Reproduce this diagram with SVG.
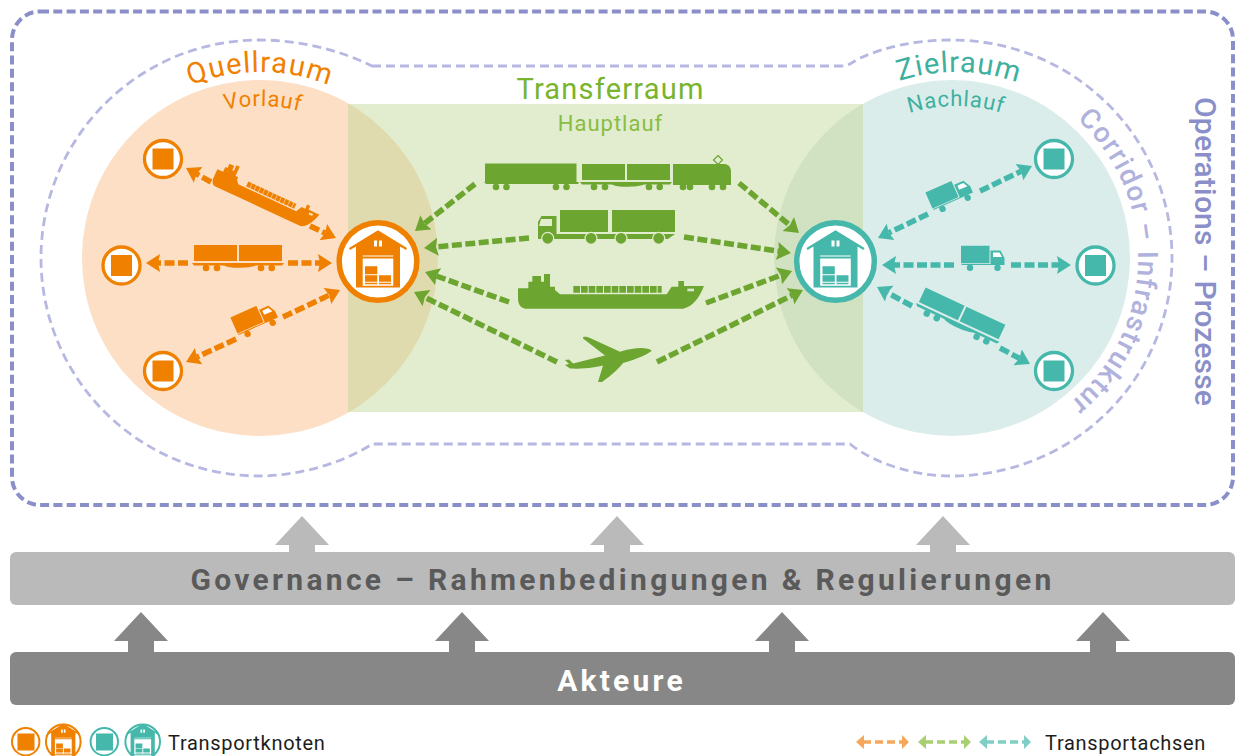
<svg xmlns="http://www.w3.org/2000/svg" width="1240" height="756" viewBox="0 0 1240 756">
<style>
text{font-family:Roboto,"Liberation Sans",sans-serif}
.or{color:#f08000;fill:#f08000}.gr{color:#6ca530;fill:#6ca530}.te{color:#45b8ab;fill:#45b8ab}
.ax{fill:none;stroke-width:5.500;stroke-dasharray:10 3.500}
.ao{stroke:#f08000;marker-end:url(#mo)}.ag{stroke:#6ca530;marker-end:url(#mg)}.at{stroke:#45b8ab;marker-end:url(#mt)}
.lg{fill:none;stroke-width:3.500;stroke-dasharray:8 4}
.ring{fill:#fff;stroke:currentColor;stroke-width:3.300}
.ring2{fill:#fff;stroke:currentColor;stroke-width:2}
.hub{fill:#fff;stroke:currentColor;stroke-width:5.500}
.k{fill:#1d1d1b;font-size:20px;letter-spacing:.7px}
</style>
<defs>
<marker id="mo" markerUnits="userSpaceOnUse" markerWidth="16" markerHeight="20" refX="2" refY="9" orient="auto"><path d="M0 0L14 9L0 18L2 9Z" fill="#f08000"/></marker>
<marker id="mg" markerUnits="userSpaceOnUse" markerWidth="16" markerHeight="20" refX="2" refY="9" orient="auto"><path d="M0 0L14 9L0 18L2 9Z" fill="#6ca530"/></marker>
<marker id="mt" markerUnits="userSpaceOnUse" markerWidth="16" markerHeight="20" refX="2" refY="9" orient="auto"><path d="M0 0L14 9L0 18L2 9Z" fill="#45b8ab"/></marker>
<clipPath id="cr"><rect x="348" y="104" width="515" height="308"/></clipPath>
<path id="aq" d="M72 262A188 190 0 0 1 448 262"/>
<path id="av" d="M104 262A156 156 0 0 1 416 262"/>
<path id="az" d="M768 262A188 190 0 0 1 1144 262"/>
<path id="an" d="M800 262A156 156 0 0 1 1112 262"/>
<path id="ac" d="M1077 119.300A188 188 0 0 1 1044 421"/>
<symbol id="wagon" overflow="visible"><path d="M-44-13h43V3h-43zM1-13h43V3H1zM-46 5H46L44 7.500H22L18 7.500C12 10 -8 11 -14 7.500H-44Z"/><circle cx="-32" cy="10" r="3.300"/><circle cx="-21" cy="10" r="3.300"/><circle cx="23" cy="10" r="3.300"/><circle cx="33.700" cy="10" r="3.300"/></symbol>
<symbol id="truck" overflow="visible"><path d="M-21.500-12.300H7V5.300H-21.500zM8-7.600H18L22 0V7H-21V6H8Z"/><path d="M10.500-5.500H17L19.500-1H10.500Z" fill="#fff"/><circle cx="-12.500" cy="9.700" r="3.200"/><circle cx="15" cy="9.700" r="3.200"/></symbol>
<symbol id="ship" overflow="visible"><path d="M-279-9H-248V-29H-236V-46H-210V-29H-201V-52H-183V-14H-168V-4L-153 9H167L182-14H202V-31H219V-16H279C265 20 245 46 217 52H-255C-270 52-279 40-279 21Z"/><path d="M-113-6h265" fill="none" stroke="currentColor" stroke-width="20" stroke-dasharray="20 3"/><rect x="229" y="-8" width="20" height="8" fill="#fff" opacity=".75"/></symbol>
<symbol id="wh" overflow="visible"><path d="M0-31.300L29-13.500L28-11.500L22-15V26H-22V-15L-28-11.500L-29-13.500Z"/><path d="M-4-21h3v6h-3zM1-21h3v6H1zM-15.300-6H15.300V-5H-15.300zM-15.300-3H15.300V24.300H-15.300z" fill="#fff"/><path d="M-13 4.700H-.7V12.700H-13zM-13 13.700H-.7V20.300H-13zM1 13.700H13V20.300H1zM-13 21.300H-.7V22.800H-13zM1 21.300H13V22.800H1z"/></symbol>
<path id="sq" d="M-10.500-10.500h21v21h-21z"/>
</defs>
<rect width="1240" height="756" fill="#fff"/>
<g id="frame"><rect x="12" y="11.500" width="1221" height="493.500" rx="28" fill="none" stroke="#8b8fc9" stroke-width="4" stroke-dasharray="9 4.300"/>
<path d="M372 66L840 66C850 66 852 62 860 58C885 47 915 40 952 40A220 218 0 0 1 952 476C915 476 875 464 850 444L372 444C345 462 300 476 259 476A218 218 0 0 1 259 40C300 40 340 50 372 66Z" fill="none" stroke="#b6b8e2" stroke-width="2.800" stroke-dasharray="9 5"/></g>
<g id="spaces"><circle cx="260" cy="258" r="178" fill="#fcdfc5"/><circle cx="952" cy="258" r="178" fill="#dbedea"/><rect x="348" y="104" width="515" height="308" fill="#e2ecce"/>
<g clip-path="url(#cr)"><circle cx="260" cy="258" r="178" fill="#e0dbae"/><circle cx="952" cy="258" r="178" fill="#d1e2c2"/></g></g>
<g id="connectors">
<path class="ax ao" d="M211 182L196.500 173.900"/><path class="ax ao" d="M310 226L325.100 233"/><path class="ax ao" d="M188 263H158"/><path class="ax ao" d="M288 263H320"/><path class="ax ao" d="M236 339L196.900 357"/><path class="ax ao" d="M283 317L329.200 295.100"/>
<path class="ax ag" d="M475 184L424.400 223.600"/><path class="ax ag" d="M529 238L436 246.900"/><path class="ax ag" d="M509 302L436.300 276"/><path class="ax ag" d="M557 362L424.800 297.300"/><path class="ax ag" d="M739 183L789.800 225.300"/><path class="ax ag" d="M684 237L779.100 251.200"/><path class="ax ag" d="M706 303L780.800 275.200"/><path class="ax ag" d="M657 362L792.200 295.300"/>
<path class="ax at" d="M928 214L888.800 232.800"/><path class="ax at" d="M980 191L1021.200 171.200"/><path class="ax at" d="M954 265H894"/><path class="ax at" d="M1011 265H1059"/><path class="ax at" d="M912 306L887.500 292.700"/><path class="ax at" d="M1000 348L1019.400 358.300"/>
</g>
<g id="orange-nodes" class="or"><g id="n1"><circle class="ring" cx="163" cy="159" r="18.500"/><use href="#sq" x="163" y="159"/></g><g id="n2"><circle class="ring" cx="121.500" cy="265.500" r="18.500"/><use href="#sq" x="121.500" y="265.500"/></g><g id="n3"><circle class="ring" cx="163" cy="371" r="18.500"/><use href="#sq" x="163" y="371"/></g><g id="hub-o"><circle class="hub" cx="378" cy="261.500" r="38.800"/><use href="#wh" x="378" y="261.500"/></g></g>
<g id="teal-nodes" class="te"><g id="n4"><circle class="ring" cx="1054" cy="159" r="18.500"/><use href="#sq" x="1054" y="159"/></g><g id="n5"><circle class="ring" cx="1095.500" cy="265.500" r="18.500"/><use href="#sq" x="1095.500" y="265.500"/></g><g id="n6"><circle class="ring" cx="1054" cy="371" r="18.500"/><use href="#sq" x="1054" y="371"/></g><g id="hub-t"><circle class="hub" cx="835.500" cy="261.500" r="38.800"/><use href="#wh" x="835.500" y="261.500"/></g></g>
<g id="vehicles-orange" class="or"><use href="#ship" transform="translate(267 195) rotate(25) scale(.2 .27)"/><use href="#wagon" x="238" y="258"/><use href="#truck" transform="translate(255 320) rotate(-24)"/></g>
<g id="vehicles-teal" class="te"><use href="#truck" transform="translate(950 195) rotate(-24)"/><use href="#truck" x="982.500" y="258"/><use href="#wagon" transform="translate(960 318) rotate(25)"/></g>
<g id="vehicles-green" class="gr">
<path d="M485 163.500H576.500V182H579L578 184H486L484 182H485Z"/><circle cx="496" cy="187" r="3.300"/><circle cx="506.500" cy="187" r="3.300"/><circle cx="556" cy="187" r="3.300"/><circle cx="566.500" cy="187" r="3.300"/>
<use href="#wagon" x="626" y="177"/>
<path d="M673 164H724C729 164 731 168 731 172V185H673Z"/><circle cx="683" cy="187" r="3.300"/><circle cx="690" cy="187" r="3.300"/><circle cx="712" cy="187" r="3.300"/><circle cx="723" cy="187" r="3.300"/><path d="M718 155.500L722.500 160L718 164.500L713.500 160Z" fill="none" stroke="#6ca530" stroke-width="1.200"/>
<path d="M560 210h48v22h-48zM612 210h63v22h-63zM538 222L541.500 216H556.500V234H675L668 239H538Z"/><path d="M541 219H552V226H539Z" fill="#e2ecce"/><g stroke="#e2ecce" stroke-width="1.200"><circle cx="547.700" cy="238.300" r="6"/><circle cx="591" cy="238.300" r="6"/><circle cx="621" cy="238.300" r="6"/><circle cx="658.700" cy="238.300" r="6"/></g>
<use href="#ship" transform="translate(611 291.300) scale(.3333)"/>
<path d="M651.700 350.700C648 347 635 347 620 351.700L590 338C585 336 580 336.500 585 340L605 355.500L573 363.500L569 359.500L565 360L569 364L565 365L570 368.500C585 369.300 597 367 603 365.500L598 382L602 382C612 375 620 367 623 363C640 358 648 354 651.700 350.700Z"/>
</g>
<g id="labels">
<text font-size="29" fill="#f08000" letter-spacing="1.200" text-anchor="middle"><textPath href="#aq" startOffset="50%">Quellraum</textPath></text>
<text font-size="22" fill="#f08000" letter-spacing=".8" text-anchor="middle"><textPath href="#av" startOffset="50.600%">Vorlauf</textPath></text>
<text x="610.500" y="98.500" font-size="29" fill="#79b42d" letter-spacing="1.200" text-anchor="middle">Transferraum</text>
<text x="610.500" y="130.500" font-size="22" fill="#88bd44" letter-spacing="1" text-anchor="middle">Hauptlauf</text>
<text font-size="29" fill="#3eb0a0" letter-spacing="1" text-anchor="middle"><textPath href="#az" startOffset="50.500%">Zielraum</textPath></text>
<text font-size="22" fill="#3eb0a0" letter-spacing=".8" text-anchor="middle"><textPath href="#an" startOffset="50%">Nachlauf</textPath></text>
<text font-size="28" font-weight="500" fill="#b0b2dd" letter-spacing="1.300"><textPath href="#ac">Corridor – Infrastruktur</textPath></text>
<text transform="translate(1195 97) rotate(90)" font-size="30" font-weight="500" fill="#8b8fc9" letter-spacing=".2">Operations – Prozesse</text>
</g>
<g id="governance"><path d="M289 552V545H275L302 516L329 545H315V552ZM604 552V545H590L617 516L644 545H630V552ZM930 552V545H916L943 516L970 545H956V552Z" fill="#bababa"/><rect x="10" y="552" width="1225" height="53" rx="6" fill="#bababa"/><text x="622.500" y="590" font-size="30" font-weight="700" fill="#5a5a5a" letter-spacing="3.300" text-anchor="middle">Governance – Rahmenbedingungen &amp; Regulierungen</text></g>
<g id="akteure"><path d="M128 652V641H114L141 612L168 641H154V652ZM449 652V641H435L462 612L489 641H475V652ZM769 652V641H755L782 612L809 641H795V652ZM1090 652V641H1076L1103 612L1130 641H1116V652Z" fill="#878787"/><rect x="10" y="652" width="1225" height="53" rx="6" fill="#878787"/><text x="621.500" y="691" font-size="30" font-weight="700" fill="#fff" letter-spacing="3.200" text-anchor="middle">Akteure</text></g>
<g id="legend">
<g class="or"><circle class="ring2" cx="25.700" cy="741.700" r="13.700"/><rect x="17.500" y="733.500" width="17" height="17"/><circle class="ring2" cx="63.300" cy="741.700" r="17.300"/><use href="#wh" transform="translate(63.300 741) scale(.55)"/></g>
<g class="te"><circle class="ring2" cx="104.300" cy="741.700" r="13.700"/><rect x="96" y="733.500" width="17" height="17"/><circle class="ring2" cx="142.700" cy="741.700" r="17.300"/><use href="#wh" transform="translate(142.700 741) scale(.55)"/></g>
<text class="k" x="168" y="750">Transportknoten</text>
<g stroke="#f5a85b"><path class="lg" d="M863 742H903"/></g><path d="M864 735V749L856 742ZM902 735V749L909 742Z" fill="#f5a85b"/>
<g stroke="#a8cf72"><path class="lg" d="M925 742H965"/></g><path d="M926 735V749L918 742ZM964 735V749L971 742Z" fill="#a8cf72"/>
<g stroke="#80cfc5"><path class="lg" d="M986 742H1025"/></g><path d="M987 735V749L979 742ZM1024 735V749L1031 742Z" fill="#80cfc5"/>
<text class="k" x="1045" y="750">Transportachsen</text>
</g>
</svg>
